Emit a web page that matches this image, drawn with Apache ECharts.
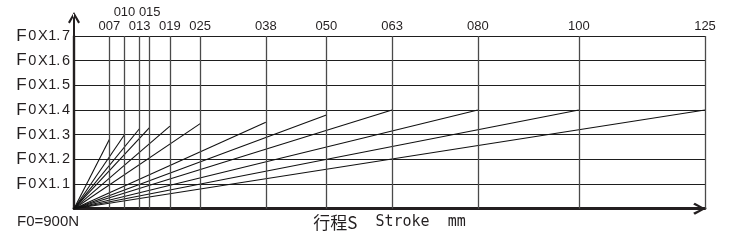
<!DOCTYPE html>
<html>
<head>
<meta charset="utf-8">
<script src="https://cdn.jsdelivr.net/npm/echarts@6/dist/echarts.min.js"></script>
<style>html,body{margin:0;padding:0;background:#fff;}#c{width:733px;height:242px;}</style>
</head>
<body>
<div id="c"></div>
<script>
// Data
const strokes = [7, 10, 13, 15, 19, 25, 38, 50, 63, 80, 100, 125];
const strokeLabels = ['007', '010', '013', '015', '019', '025', '038', '050', '063', '080', '100', '125'];
const endForces = [1.28, 1.30, 1.325, 1.33, 1.335, 1.345, 1.35, 1.38, 1.40, 1.40, 1.40, 1.40];
const yTicks = [1.1, 1.2, 1.3, 1.4, 1.5, 1.6, 1.7];
const yTickLabels = ['1.1', '1.2', '1.3', '1.4', '1.5', '1.6', '1.7'];
const baseForceLabel = 'F0=900N';
const raisedLabels = ['010', '015'];

const ink = '#231f20';
const chart = echarts.init(document.getElementById('c'), null, {renderer: 'canvas'});

const yArrow = 'path://M5,2 L7,2 L7,24 L5,24 Z M6,0 L0,10.2 L1.8,11.6 L6,4 Z M6,0 L12,10.2 L10.2,11.6 L6,4 Z';
const xArrow = 'path://M6,0 L0,11 L1.9,12.6 L6,4.2 Z M6,0 L12,11 L10.1,12.6 L6,4.2 Z';

const series = strokes.map((s, i) => ({
  type: 'line',
  data: [[0, 1.0], [s, endForces[i]]],
  symbol: 'none',
  silent: true,
  lineStyle: {color: '#111', width: 1.1},
  z: 3
}));

series.push({
  type: 'line',
  data: [],
  silent: true,
  markLine: {
    silent: true,
    symbol: ['none', 'none'],
    animation: false,
    lineStyle: {color: '#4a4a4a', width: 1.3, type: 'solid'},
    label: {
      show: true,
      position: 'end',
      color: ink,
      fontFamily: 'Liberation Sans, Arial, sans-serif',
      fontSize: 13
    },
    emphasis: {disabled: true},
    data: strokes.map((s, i) => ({
      xAxis: s,
      label: {
        formatter: strokeLabels[i],
        distance: raisedLabels.includes(strokeLabels[i]) ? 17 : 3
      }
    }))
  }
});

chart.setOption({
  animation: false,
  backgroundColor: '#fff',
  grid: {left: 74, right: 28, top: 36, bottom: 33.3},
  xAxis: {
    type: 'value',
    min: 0,
    max: 125,
    axisLabel: {show: false},
    axisTick: {show: false},
    splitLine: {show: false},
    axisLine: {
      onZero: false,
      lineStyle: {color: ink, width: 2.8},
      symbol: ['none', xArrow],
      symbolSize: [12, 13],
      symbolOffset: [0, -5.5]
    },
    name: '{c|行程S}{m|  Stroke  mm}',
    nameLocation: 'middle',
    nameGap: 5,
    nameTextStyle: {
      rich: {
        c: {fontFamily: 'Noto Sans CJK SC', fontSize: 17, color: ink},
        m: {fontFamily: 'DejaVu Sans Mono', fontSize: 15, color: ink}
      }
    }
  },
  yAxis: {
    type: 'value',
    min: 1.0,
    max: 1.7,
    interval: 0.1,
    axisTick: {show: false},
    axisLine: {
      onZero: false,
      lineStyle: {color: ink, width: 2.4},
      symbol: ['none', yArrow],
      symbolSize: [12, 24],
      symbolOffset: [0, 12]
    },
    splitLine: {lineStyle: {color: '#1e1e1e', width: 1.1}},
    axisLabel: {
      margin: 4,
      formatter: function (v) {
        const idx = yTicks.findIndex(t => Math.abs(t - v) < 1e-6);
        if (idx < 0) return '';
        const parts = yTickLabels[idx].split('.');
        return '{f|F}{s| }{z|0}{s| }{z|X}{t| }{z|' + parts[0] + '.}{s| }{z|' + parts[1] + '}';
      },
      rich: {
        f: {fontFamily: 'Liberation Sans', fontSize: 17, color: ink},
        z: {fontFamily: 'Liberation Sans', fontSize: 14.5, color: ink},
        s: {fontFamily: 'Liberation Sans', fontSize: 6, color: ink},
        t: {fontFamily: 'Liberation Sans', fontSize: 2, color: ink}
      }
    }
  },
  graphic: [{
    type: 'text',
    left: 17,
    top: 214,
    style: {
      text: baseForceLabel,
      font: '15px "Liberation Sans", Arial, sans-serif',
      fill: ink
    }
  }],
  series: series
});
</script>
</body>
</html>
